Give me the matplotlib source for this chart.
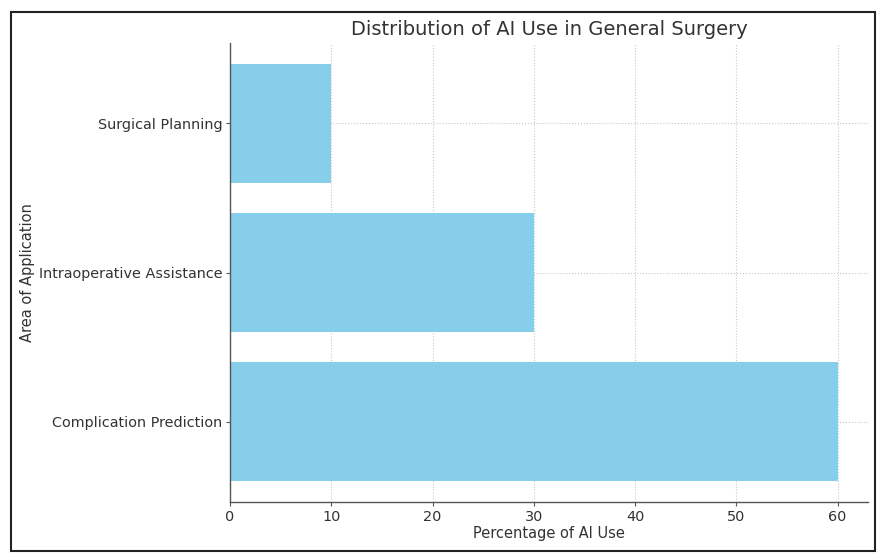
import matplotlib.pyplot as plt
from matplotlib.patches import Rectangle

# Datos
areas = ['Complication Prediction', 'Intraoperative Assistance', 'Surgical Planning']
porcentajes = [60, 30, 10]

W, H = 892, 560
fig = plt.figure(figsize=(W / 100, H / 100), dpi=100, facecolor='white')

# Ejes en coordenadas de píxel
left, right, top, bottom = 230, 868, 43, 502
ax = fig.add_axes([left / W, 1 - bottom / H, (right - left) / W, (bottom - top) / H])

ax.barh(areas, porcentajes, color='skyblue', height=0.8, zorder=2)

ax.set_title('Distribution of AI Use in General Surgery', fontsize=14, color='#333333', pad=6)
ax.set_xlabel('Percentage of AI Use', fontsize=10.5, color='#333333', labelpad=2)
ax.set_ylabel('Area of Application', fontsize=10.5, color='#333333')
ax.yaxis.set_label_coords((35 - left) / (right - left), 0.5)

ax.grid(True, linestyle=':', color='#c8c8c8', linewidth=0.8, zorder=0)
for s in ['top', 'right']:
    ax.spines[s].set_visible(False)
for s in ['left', 'bottom']:
    ax.spines[s].set_color('#555555')
    ax.spines[s].set_linewidth(1.0)

ax.tick_params(axis='both', labelsize=10.4, colors='#333333', length=3, width=0.8, pad=2.5)
ax.tick_params(axis='both', color='#555555')

# Marco exterior
fig.patches.append(Rectangle((11 / W, 1 - 551 / H), (875 - 11) / W, (551 - 12) / H,
                             transform=fig.transFigure, fill=False,
                             edgecolor='#222222', linewidth=1.5))

fig.savefig('out.png', dpi=100)
